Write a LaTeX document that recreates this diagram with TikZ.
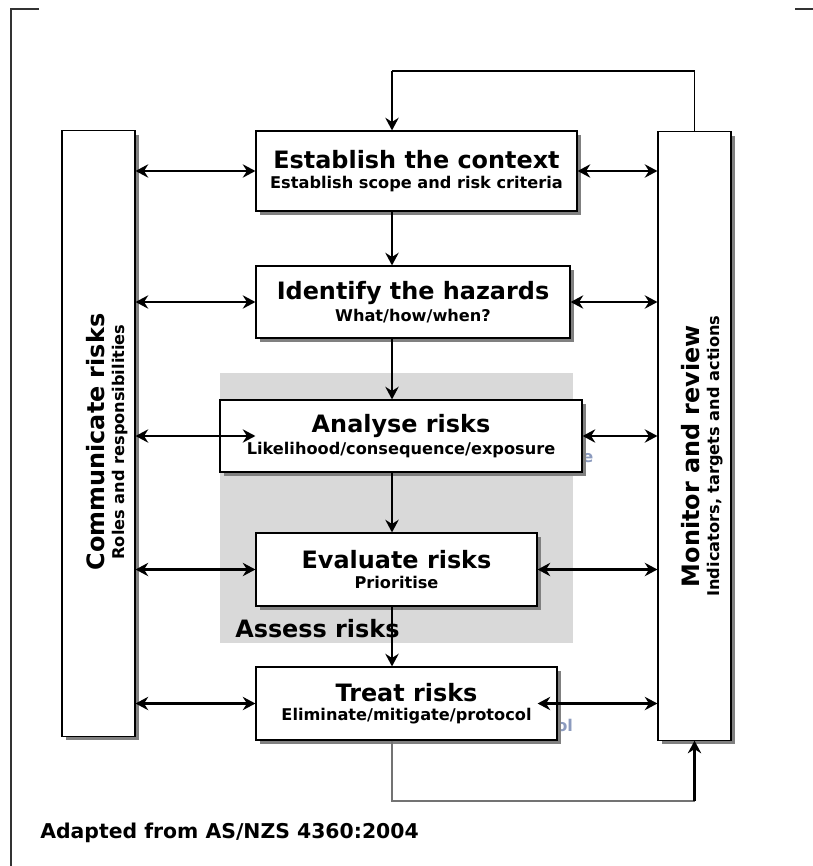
\documentclass[tikz,border=0pt]{standalone}
\usepackage{fontspec}
\setmainfont{DejaVu Sans}
\usetikzlibrary{arrows.meta}
\usetikzlibrary{shadows}
\definecolor{ghostblue}{RGB}{140,155,190}
\newcommand{\stagehead}{\fontsize{17}{19}\selectfont\bfseries}
\newcommand{\stagesub}{\fontsize{11.5}{13}\selectfont\bfseries}

\begin{document}
\begin{tikzpicture}[x=0.025cm, y=-0.025cm,
    stage/.style={rectangle, draw=black, line width=0.8pt, fill=white, inner sep=0pt, align=center,
        drop shadow={shadow xshift=2.8pt, shadow yshift=-2.8pt, fill=black!50, opacity=1}},
    flow/.style={line width=1.8pt, -{Stealth[length=9pt, width=9.5pt, inset=3pt]}},
    both/.style={line width=1.8pt, {Stealth[length=9pt, width=9.5pt, inset=3pt]}-{Stealth[length=9pt, width=9.5pt, inset=3pt]}},
    ghost/.style={text=ghostblue, font=\stagesub, inner sep=0pt}]
    \useasboundingbox (0,0) rectangle (813,866);

    % frame
    \draw [line width=1pt, black!80] (39,9) -- (11,9) -- (11,866);
    \draw [line width=1pt, black!80] (795,9) -- (813,9);

    % assess risks area
    \node [rectangle, fill=black!15, minimum width=8.825cm, minimum height=6.75cm, inner sep=0pt] (assess) at (396.5,508) {};
    \node [anchor=west, inner sep=0pt, font=\stagehead] (assesslbl) at (235,629) {Assess risks};

    \node [ghost, anchor=west] (ghosta) at (582,458) {e};
    \node [ghost, anchor=west] (ghostt) at (556,725) {ol};

    % stages
    \node [stage, minimum width=8.025cm, minimum height=2cm] (est) at (416.5,171) {{\stagehead Establish the context}\\[2pt]{\stagesub Establish scope and risk criteria}};
    \node [stage, minimum width=7.85cm, minimum height=1.8cm] (ide) at (413,302) {{\stagehead Identify the hazards}\\[2pt]{\stagesub What/how/when?}};
    \node [stage, minimum width=9.05cm, minimum height=1.8cm] (ana) at (401,436) {{\stagehead Analyse risks}\\[2pt]{\stagesub Likelihood/consequence/exposure}};
    \node [stage, minimum width=7.025cm, minimum height=1.825cm] (eva) at (396.5,569.5) {{\stagehead Evaluate risks}\\[2pt]{\stagesub Prioritise}};
    \node [stage, minimum width=7.525cm, minimum height=1.825cm] (tre) at (406.5,703.5) {{\stagehead Treat risks}\\[2pt]{\stagesub Eliminate/mitigate/protocol}};

    % side columns
    \node [stage, minimum width=1.825cm, minimum height=15.125cm] (com) at (98.5,433.5) {};
    \node [rotate=90, align=center, inner sep=0pt] (comlbl) at (107,442) {{\stagehead Communicate risks}\\[2pt]{\stagesub Roles and responsibilities}};
    \node [stage, minimum width=1.825cm, minimum height=15.2cm] (mon) at (694.5,436) {};
    \node [rotate=90, align=center, inner sep=0pt] (monlbl) at (702,456) {{\stagehead Monitor and review}\\[2pt]{\stagesub Indicators, targets and actions}};

    \node [anchor=west, inner sep=0pt, font=\fontsize{14.5}{16}\selectfont\bfseries] (source) at (40,833) {Adapted from AS/NZS 4360:2004};

    % main flow
    \coordinate (spine) at (392,0);
    \coordinate (looptop) at (392,71);
    \coordinate (loopbot) at (392,801);
    \draw [line width=0.8pt] (mon.north) |- (looptop);
    \draw [flow] (looptop) -- (est.north -| looptop);
    \draw [flow] (est.south -| spine) -- (ide.north -| spine);
    \draw [flow] (ide.south -| spine) -- (ana.north -| spine);
    \draw [flow] (ana.south -| spine) -- (eva.north -| spine);
    \draw [flow] (eva.south -| spine) -- (tre.north -| spine);
    \draw [line width=0.8pt, black!55] (tre.south -| loopbot) -- (loopbot) -- (loopbot -| mon.south);
    \draw [flow] (loopbot -| mon.south) -- (mon.south);

    % communicate
    \draw [both] (com.east |- est.west) -- (est.west);
    \draw [both] (com.east |- ide.west) -- (ide.west);
    \draw [both] (com.east |- ana.west) -- (ana.west -| est.west);
    \draw [both] (com.east |- eva.west) -- (eva.west);
    \draw [both] (com.east |- tre.west) -- (tre.west);

    % monitor
    \draw [both] (est.east) -- (est.east -| mon.west);
    \draw [both] (ide.east) -- (ide.east -| mon.west);
    \draw [both] (ana.east) -- (ana.east -| mon.west);
    \draw [both] (eva.east) -- (eva.east -| mon.west);
    \draw [both] (tre.east -| eva.east) -- (tre.east -| mon.west);
\end{tikzpicture}
\end{document}
